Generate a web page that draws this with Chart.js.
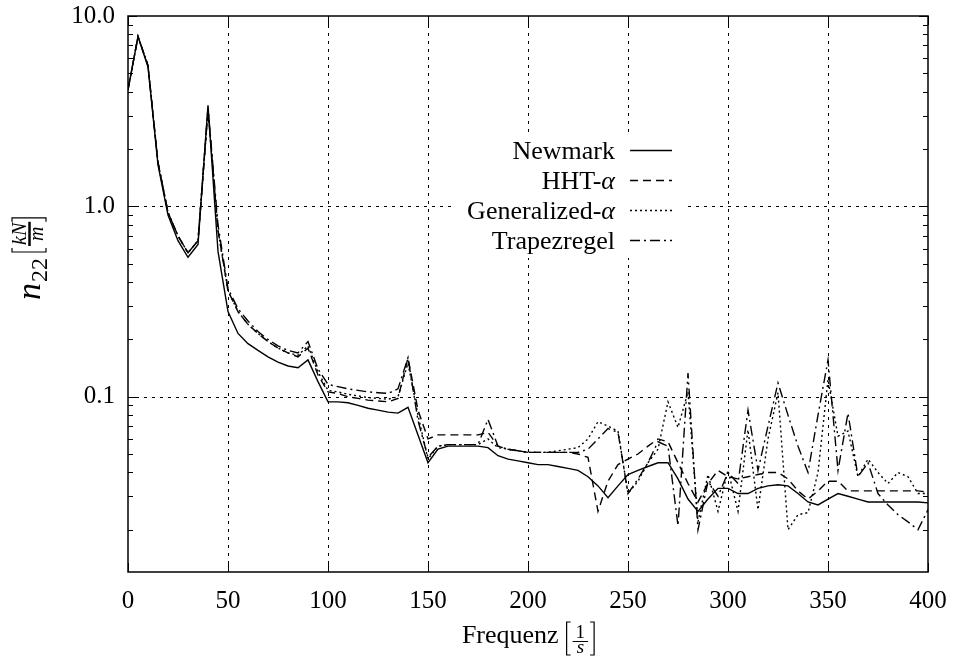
<!DOCTYPE html>
<html>
<head>
<meta charset="utf-8">
<script src="https://cdn.jsdelivr.net/npm/chart.js@4/dist/chart.umd.min.js"></script>
<style>
  html, body { margin: 0; padding: 0; background: #fff; }
  #wrap { width: 953px; height: 657px; position: relative; }
</style>
</head>
<body>
<div id="wrap"><canvas id="chart" width="953" height="657"></canvas></div>
<script>
// Frequency samples [1/s]
const freq = [
    0, 5, 10, 15, 20, 25, 30, 35, 40, 45,
    50, 55, 60, 65, 70, 75, 80, 85, 90, 95,
    100, 105, 110, 115, 120, 125, 130, 135, 140, 145,
    150, 155, 160, 165, 170, 175, 180, 185, 190, 195,
    200, 205, 210, 215, 220, 225, 230, 235, 240, 245,
    250, 255, 260, 265, 270, 275, 280, 285, 290, 295,
    300, 305, 310, 315, 320, 325, 330, 335, 340, 345,
    350, 355, 360, 365, 370, 375, 380, 385, 390, 395,
    400
];

// n22 [kN/m] per integration scheme
const newmark = [
    4.1, 7.8, 5.4, 1.65, 0.90, 0.66, 0.54, 0.63, 3.4, 0.58,
    0.28, 0.215, 0.19, 0.175, 0.162, 0.152, 0.145, 0.142, 0.156, 0.12,
    0.094, 0.094, 0.093, 0.090, 0.087, 0.085, 0.083, 0.082, 0.088, 0.063,
    0.045, 0.053, 0.055, 0.055, 0.055, 0.055, 0.054, 0.049, 0.047, 0.046,
    0.045, 0.044, 0.044, 0.043, 0.042, 0.041, 0.038, 0.034, 0.0295, 0.034,
    0.039, 0.041, 0.043, 0.045, 0.045, 0.037, 0.029, 0.025, 0.029, 0.033,
    0.033, 0.031, 0.031, 0.033, 0.034, 0.0345, 0.034, 0.031, 0.028, 0.027,
    0.029, 0.031, 0.030, 0.029, 0.028, 0.028, 0.028, 0.028, 0.028, 0.028,
    0.0277
];
const hhtAlpha = [
    4.1, 7.8, 5.5, 1.7, 0.93, 0.70, 0.57, 0.66, 3.2, 0.75,
    0.36, 0.28, 0.24, 0.215, 0.195, 0.18, 0.17, 0.162, 0.18, 0.13,
    0.106, 0.104, 0.100, 0.098, 0.096, 0.095, 0.094, 0.098, 0.16, 0.085,
    0.060, 0.063, 0.063, 0.063, 0.063, 0.063, 0.065, 0.055, 0.053, 0.052,
    0.051, 0.051, 0.051, 0.051, 0.051, 0.050, 0.048, 0.025, 0.036, 0.044,
    0.047, 0.050, 0.055, 0.060, 0.058, 0.045, 0.035, 0.028, 0.035, 0.041,
    0.038, 0.037, 0.038, 0.039, 0.040, 0.040, 0.037, 0.032, 0.029, 0.032,
    0.036, 0.036, 0.032, 0.032, 0.032, 0.032, 0.032, 0.032, 0.032, 0.032,
    0.0315
];
const generalizedAlpha = [
    4.1, 7.8, 5.5, 1.7, 0.93, 0.70, 0.57, 0.66, 3.2, 0.75,
    0.36, 0.28, 0.24, 0.215, 0.195, 0.18, 0.17, 0.165, 0.185, 0.135,
    0.108, 0.106, 0.103, 0.101, 0.099, 0.098, 0.097, 0.100, 0.15, 0.08,
    0.047, 0.055, 0.056, 0.056, 0.056, 0.056, 0.060, 0.054, 0.053, 0.052,
    0.051, 0.051, 0.051, 0.052, 0.053, 0.054, 0.060, 0.074, 0.070, 0.066,
    0.031, 0.036, 0.045, 0.053, 0.094, 0.069, 0.106, 0.022, 0.039, 0.025,
    0.041, 0.025, 0.067, 0.0255, 0.060, 0.105, 0.020, 0.024, 0.0246, 0.040,
    0.123, 0.062, 0.066, 0.038, 0.047, 0.040, 0.035, 0.040, 0.038, 0.031,
    0.031
];
const trapezregel = [
    4.1, 7.8, 5.5, 1.7, 0.93, 0.70, 0.57, 0.66, 3.3, 0.8,
    0.37, 0.29, 0.25, 0.22, 0.20, 0.185, 0.175, 0.17, 0.195, 0.14,
    0.116, 0.113, 0.110, 0.108, 0.106, 0.105, 0.104, 0.110, 0.16, 0.075,
    0.048, 0.055, 0.056, 0.056, 0.056, 0.056, 0.076, 0.055, 0.053, 0.052,
    0.051, 0.051, 0.051, 0.051, 0.051, 0.051, 0.053, 0.060, 0.068, 0.065,
    0.031, 0.037, 0.045, 0.058, 0.055, 0.021, 0.133, 0.020, 0.036, 0.030,
    0.040, 0.035, 0.085, 0.041, 0.070, 0.118, 0.080, 0.055, 0.040, 0.080,
    0.156, 0.041, 0.082, 0.038, 0.045, 0.031, 0.027, 0.024, 0.022, 0.020,
    0.0255
];

// Axis ticks
const xTicks = [0, 50, 100, 150, 200, 250, 300, 350, 400];
const yTicks = [0.1, 1, 10];
const yMinorTicks = [
    0.02, 0.03, 0.04, 0.05, 0.06, 0.07, 0.08, 0.09,
    0.2, 0.3, 0.4, 0.5, 0.6, 0.7, 0.8, 0.9,
    2, 3, 4, 5, 6, 7, 8, 9
];

const seriesNames = ['Newmark', 'HHT-', 'Generalized-', 'Trapezregel'];
const seriesGreek = ['', 'α', 'α', ''];

const SERIF = '"Liberation Serif", "DejaVu Serif", serif';
const dashes = [[], [8, 5], [2, 3], [10, 4, 2, 4]];

function toPoints(values) {
    return freq.map((f, i) => ({ x: f, y: values[i] }));
}

// Gnuplot-like frame, grid, key and axis titles
const gnuplotLook = {
    id: 'gnuplotLook',
    beforeDatasetsDraw(chart) {
        const { ctx, chartArea: a, scales } = chart;
        ctx.save();
        ctx.strokeStyle = '#000';
        ctx.lineWidth = 1;
        ctx.setLineDash([3, 5]);
        xTicks.forEach(v => {
            if (v === 0 || v === 400) return;
            const px = Math.round(scales.x.getPixelForValue(v)) + 0.5;
            ctx.beginPath();
            ctx.moveTo(px, a.bottom);
            ctx.lineTo(px, a.top);
            ctx.stroke();
        });
        yTicks.forEach(v => {
            if (v === 10) return;
            const py = Math.round(scales.y.getPixelForValue(v)) + 0.5;
            ctx.beginPath();
            ctx.moveTo(a.left, py);
            ctx.lineTo(a.right, py);
            ctx.stroke();
        });
        ctx.restore();
    },
    afterDatasetsDraw(chart) {
        const { ctx, chartArea: a, scales } = chart;
        ctx.save();
        ctx.strokeStyle = '#000';
        ctx.fillStyle = '#000';
        ctx.setLineDash([]);

        // key box (opaque, hides grid)
        ctx.fillStyle = '#fff';
        ctx.fillRect(455, 133, 232, 125);
        ctx.fillStyle = '#000';

        // frame
        ctx.lineWidth = 1.5;
        ctx.strokeRect(a.left, a.top, a.right - a.left, a.bottom - a.top);

        // x ticks (bottom and top mirror)
        ctx.lineWidth = 1;
        xTicks.forEach(v => {
            const px = Math.round(scales.x.getPixelForValue(v)) + 0.5;
            ctx.beginPath();
            ctx.moveTo(px, a.bottom);
            ctx.lineTo(px, a.bottom - 9);
            ctx.moveTo(px, a.top);
            ctx.lineTo(px, a.top + 9);
            ctx.stroke();
        });
        // y ticks (major and minor, both sides)
        const yTick = (v, len) => {
            const py = Math.round(scales.y.getPixelForValue(v)) + 0.5;
            ctx.beginPath();
            ctx.moveTo(a.left, py);
            ctx.lineTo(a.left + len, py);
            ctx.moveTo(a.right, py);
            ctx.lineTo(a.right - len, py);
            ctx.stroke();
        };
        yTicks.forEach(v => yTick(v, 9));
        yMinorTicks.forEach(v => {
            if (v >= scales.y.min) yTick(v, 5);
        });

        // key
        const keyRight = 615;
        const sampleX0 = 630, sampleX1 = 672;
        seriesNames.forEach((name, i) => {
            const y = 150 + i * 30;
            ctx.textBaseline = 'middle';
            ctx.textAlign = 'right';
            let right = keyRight;
            if (seriesGreek[i]) {
                ctx.font = 'italic 26px ' + SERIF;
                ctx.fillText(seriesGreek[i], right, y + 2);
                right -= ctx.measureText(seriesGreek[i]).width;
            }
            ctx.font = '26px ' + SERIF;
            ctx.fillText(name, right, y + 2);
            ctx.lineWidth = 1.4;
            ctx.setLineDash(dashes[i]);
            ctx.beginPath();
            ctx.moveTo(sampleX0, y + 0.5);
            ctx.lineTo(sampleX1, y + 0.5);
            ctx.stroke();
            ctx.setLineDash([]);
        });

        drawYTitle(ctx);
        drawXTitle(ctx);
        ctx.restore();
    }
};

function bracket(ctx, x, top, bottom, dir) {
    ctx.beginPath();
    ctx.moveTo(x + dir * 4, top);
    ctx.lineTo(x, top);
    ctx.lineTo(x, bottom);
    ctx.lineTo(x + dir * 4, bottom);
    ctx.stroke();
}

function drawYTitle(ctx) {
    ctx.save();
    ctx.translate(40, 300);
    ctx.rotate(-Math.PI / 2);
    ctx.textAlign = 'left';
    ctx.textBaseline = 'alphabetic';
    ctx.lineWidth = 1.2;
    ctx.font = 'italic 34px ' + SERIF;
    ctx.fillText('n', 0, 0);
    let x = ctx.measureText('n').width + 1;
    ctx.font = '24px ' + SERIF;
    ctx.fillText('22', x, 7);
    x += ctx.measureText('22').width + 6;
    bracket(ctx, x, -28, 6, 1);
    x += 6;
    ctx.font = 'italic 20px ' + SERIF;
    const wNum = ctx.measureText('kN').width;
    const wDen = ctx.measureText('m').width;
    const w = Math.max(wNum, wDen) + 2;
    ctx.textAlign = 'center';
    ctx.fillText('kN', x + w / 2, -14);
    ctx.fillText('m', x + w / 2, 3);
    ctx.lineWidth = 2.5;
    ctx.beginPath();
    ctx.moveTo(x, -10.5);
    ctx.lineTo(x + w, -10.5);
    ctx.stroke();
    ctx.lineWidth = 1.2;
    x += w + 4;
    bracket(ctx, x, -28, 6, -1);
    ctx.restore();
}

function drawXTitle(ctx) {
    ctx.save();
    ctx.textAlign = 'left';
    ctx.textBaseline = 'alphabetic';
    ctx.font = '26px ' + SERIF;
    const label = 'Frequenz';
    const wLabel = ctx.measureText(label).width;
    ctx.font = '19px ' + SERIF;
    const wFrac = ctx.measureText('1').width + 6;
    const total = wLabel + 8 + 6 + wFrac + 6;
    let x = 528 - total / 2;
    ctx.font = '26px ' + SERIF;
    ctx.fillText(label, x, 643);
    x += wLabel + 8;
    ctx.lineWidth = 1.2;
    bracket(ctx, x, 622, 655, 1);
    x += 6;
    ctx.textAlign = 'center';
    ctx.font = '19px ' + SERIF;
    ctx.fillText('1', x + wFrac / 2, 638);
    ctx.font = 'italic 19px ' + SERIF;
    ctx.fillText('s', x + wFrac / 2, 653);
    ctx.lineWidth = 1;
    ctx.beginPath();
    ctx.moveTo(x, 641.5);
    ctx.lineTo(x + wFrac, 641.5);
    ctx.stroke();
    x += wFrac + 6;
    ctx.lineWidth = 1.2;
    bracket(ctx, x, 622, 655, -1);
    ctx.restore();
}

// Keep the plot box where gnuplot put it: no extra label padding
function fixPadding(scale) {
    scale.paddingTop = 0;
    scale.paddingBottom = 0;
    scale.paddingLeft = 0;
    scale.paddingRight = 0;
}

const datasets = [newmark, hhtAlpha, generalizedAlpha, trapezregel].map((values, i) => ({
    label: seriesNames[i] + seriesGreek[i],
    data: toPoints(values),
    borderColor: '#000',
    borderWidth: 1.4,
    borderDash: dashes[i],
    pointRadius: 0,
    tension: 0,
    fill: false
}));

new Chart(document.getElementById('chart'), {
    type: 'line',
    data: { datasets: datasets },
    options: {
        responsive: false,
        animation: false,
        devicePixelRatio: 1,
        layout: { padding: { left: 0, right: 25, top: 16, bottom: 0 } },
        plugins: {
            legend: { display: false },
            tooltip: { enabled: false }
        },
        scales: {
            x: {
                type: 'linear',
                min: 0,
                max: 400,
                afterBuildTicks: scale => { scale.ticks = xTicks.map(v => ({ value: v })); },
                afterFit: scale => { scale.height = 85; fixPadding(scale); },
                grid: { display: false, drawTicks: false },
                border: { display: false },
                ticks: {
                    autoSkip: false,
                    maxRotation: 0,
                    padding: 14,
                    color: '#000',
                    font: { family: SERIF, size: 25 },
                    callback: v => String(v)
                }
            },
            y: {
                type: 'logarithmic',
                min: 0.012,
                max: 10,
                afterBuildTicks: scale => { scale.ticks = yTicks.map(v => ({ value: v })); },
                afterFit: scale => { scale.width = 128; fixPadding(scale); },
                grid: { display: false, drawTicks: false },
                border: { display: false },
                ticks: {
                    autoSkip: false,
                    padding: 13,
                    color: '#000',
                    font: { family: SERIF, size: 25 },
                    callback: v => Number(v).toFixed(1)
                }
            }
        }
    },
    plugins: [gnuplotLook]
});
</script>
</body>
</html>
